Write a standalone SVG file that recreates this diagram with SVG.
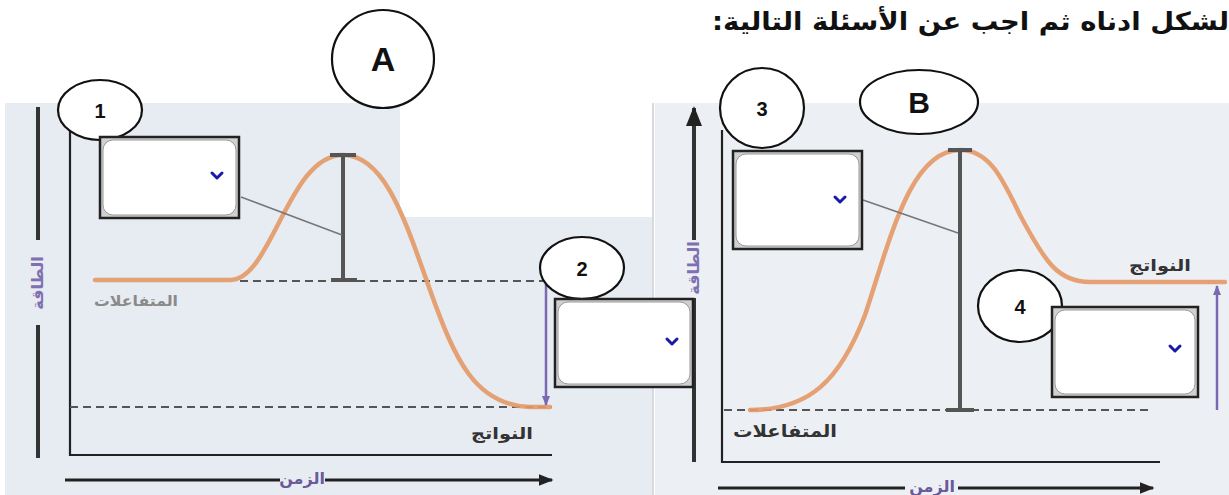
<svg xmlns="http://www.w3.org/2000/svg" width="1229" height="495" viewBox="0 0 1229 495">
<defs>
<style>
.ar{font-family:"DejaVu Sans","Noto Sans",sans-serif;font-weight:bold}
.num{font-family:"Liberation Sans",Arial,sans-serif;font-weight:bold;fill:#111;text-anchor:middle}
.circ{fill:#fff;stroke:#111;stroke-width:2.2}
.axis{stroke:#222;stroke-width:2.2;fill:none}
.yax{stroke:#333;stroke-width:4;fill:none}
.tax{stroke:#222;stroke-width:3;fill:none}
.dash{stroke:#555;stroke-width:2;stroke-dasharray:8 5;fill:none}
.curve{stroke:#e49a68;stroke-width:4.5;fill:none;stroke-linecap:round;opacity:.92}
.beam{stroke:#555;stroke-width:4;fill:none}
.purp{stroke:#7a68b0;stroke-width:2.5;fill:none}
.lead{stroke:#777;stroke-width:1.6;fill:none}
.boxo{fill:#d0d0d0;stroke:#222;stroke-width:2.5}
.boxi{fill:#fff;stroke:#999;stroke-width:1}
.chev{stroke:#1a1aa8;stroke-width:3;fill:none;stroke-linecap:round;stroke-linejoin:round}
.ylab{fill:#8070b0;font-size:16px;text-anchor:middle}
.tlab{fill:#6a5a9a;font-size:16px;text-anchor:middle}
</style>
<marker id="ahB" viewBox="0 0 10 10" refX="9" refY="5" markerWidth="5" markerHeight="5" orient="auto"><path d="M0,1 L10,5 L0,9 z" fill="#222"/></marker>
<marker id="ahP" viewBox="0 0 10 10" refX="9" refY="5" markerWidth="4" markerHeight="4" orient="auto"><path d="M0,1 L10,5 L0,9 z" fill="#7a68b0"/></marker>
</defs>
<rect width="1229" height="495" fill="#fff"/>
<g id="backgrounds">
<rect x="5" y="103" width="647" height="392" fill="#e7ebf2"/>
<rect x="400" y="100" width="252" height="117" fill="#fff"/>
<rect x="655" y="103" width="574" height="392" fill="#ecf0f5"/>
<line x1="653" y1="103" x2="653" y2="495" stroke="#c8ccd2" stroke-width="1.5"/>
</g>
<text class="ar" x="1229" y="30" font-size="25" fill="#111" direction="rtl" text-anchor="start" textLength="517" lengthAdjust="spacingAndGlyphs">لشكل ادناه ثم اجب عن الأسئلة التالية:</text>
<g id="chart-A">
<line class="yax" x1="38" y1="107" x2="38" y2="240"/>
<line class="yax" x1="38" y1="325" x2="38" y2="458"/>
<text class="ar ylab" transform="translate(43,283) rotate(-90)">الطاقة</text>
<polyline class="axis" points="70,125 70,455 552,455"/>
<line class="dash" x1="240" y1="281" x2="545" y2="281"/>
<line class="dash" x1="70" y1="407" x2="552" y2="407"/>
<path class="curve" d="M95,280 L230,280 C272,280 288,155 343,155 C385,155 405,220 430,290 C455,360 475,405 530,407 L550,407"/>
<path class="beam" d="M330,155 H356 M343,155 V280 M331,280 H357"/>
<line class="purp" x1="546" y1="284" x2="546" y2="405" marker-end="url(#ahP)"/>
<text class="ar" x="136" y="306" font-size="15" fill="#8a8a8a" text-anchor="middle" textLength="84" lengthAdjust="spacingAndGlyphs">المتفاعلات</text>
<text class="ar" x="502" y="439" font-size="16" fill="#333" text-anchor="middle" textLength="62" lengthAdjust="spacingAndGlyphs">النواتج</text>
<line class="tax" x1="65" y1="480" x2="280" y2="480"/>
<line class="tax" x1="325" y1="480" x2="552" y2="480" marker-end="url(#ahB)"/>
<text class="ar tlab" x="302" y="484">الزمن</text>
</g>
<g id="chart-B">
<line class="yax" x1="694" y1="240" x2="694" y2="108" marker-end="url(#ahB)"/>
<line class="yax" x1="694" y1="298" x2="694" y2="462"/>
<text class="ar ylab" transform="translate(699,268) rotate(-90)">الطاقة</text>
<polyline class="axis" points="722,130 722,462 1160,462"/>
<line class="dash" x1="724" y1="410" x2="1152" y2="410"/>
<path class="curve" d="M750,410 C810,410 840,380 865,315 C890,240 910,150 960,150 C990,150 1003,180 1020,215 C1045,262 1058,282 1090,282 L1225,282"/>
<path class="beam" d="M948,150 H972 M960,150 V410 M946,410 H974"/>
<line class="purp" x1="1217" y1="410" x2="1217" y2="286" marker-end="url(#ahP)"/>
<text class="ar" x="785" y="437" font-size="17" fill="#333" text-anchor="middle" textLength="104" lengthAdjust="spacingAndGlyphs">المتفاعلات</text>
<text class="ar" x="1160" y="271" font-size="16" fill="#333" text-anchor="middle" textLength="62" lengthAdjust="spacingAndGlyphs">النواتج</text>
<line class="tax" x1="718" y1="488" x2="905" y2="488"/>
<line class="tax" x1="958" y1="488" x2="1153" y2="488" marker-end="url(#ahB)"/>
<text class="ar tlab" x="932" y="492">الزمن</text>
</g>
<g id="connectors">
<line class="lead" x1="241" y1="197" x2="342" y2="235"/>
<line class="lead" x1="863" y1="200" x2="958" y2="233"/>
</g>
<g id="label-A"><ellipse class="circ" cx="383" cy="59" rx="51" ry="49"/><text class="num" x="383" y="71" font-size="34">A</text></g>
<g id="label-B"><ellipse class="circ" cx="919" cy="102" rx="59" ry="32"/><text class="num" x="919" y="113" font-size="30">B</text></g>
<g id="label-1"><ellipse class="circ" cx="100" cy="110" rx="42" ry="30"/><text class="num" x="100" y="118" font-size="20">1</text></g>
<g id="box-1"><rect class="boxo" x="100" y="137" width="139" height="81"/><rect class="boxi" x="103" y="140" width="133" height="75" rx="10"/><path class="chev" d="M212,173 L217,178 L222,173"/></g>
<g id="label-2"><ellipse class="circ" cx="582" cy="268" rx="42" ry="31"/><text class="num" x="582" y="276" font-size="20">2</text></g>
<g id="box-2"><rect class="boxo" x="555" y="299" width="138" height="88"/><rect class="boxi" x="558" y="302" width="132" height="82" rx="10"/><path class="chev" d="M667,339 L672,344 L677,339"/></g>
<g id="label-3"><ellipse class="circ" cx="762" cy="108" rx="42" ry="40"/><text class="num" x="762" y="116" font-size="20">3</text></g>
<g id="box-3"><rect class="boxo" x="733" y="151" width="129" height="98"/><rect class="boxi" x="736" y="154" width="123" height="92" rx="10"/><path class="chev" d="M835,197 L840,202 L845,197"/></g>
<g id="label-4"><ellipse class="circ" cx="1020" cy="306" rx="42" ry="36"/><text class="num" x="1020" y="314" font-size="20">4</text></g>
<g id="box-4"><rect class="boxo" x="1052" y="307" width="146" height="90"/><rect class="boxi" x="1055" y="310" width="140" height="84" rx="10"/><path class="chev" d="M1170,346 L1175,351 L1180,346"/></g>
</svg>
